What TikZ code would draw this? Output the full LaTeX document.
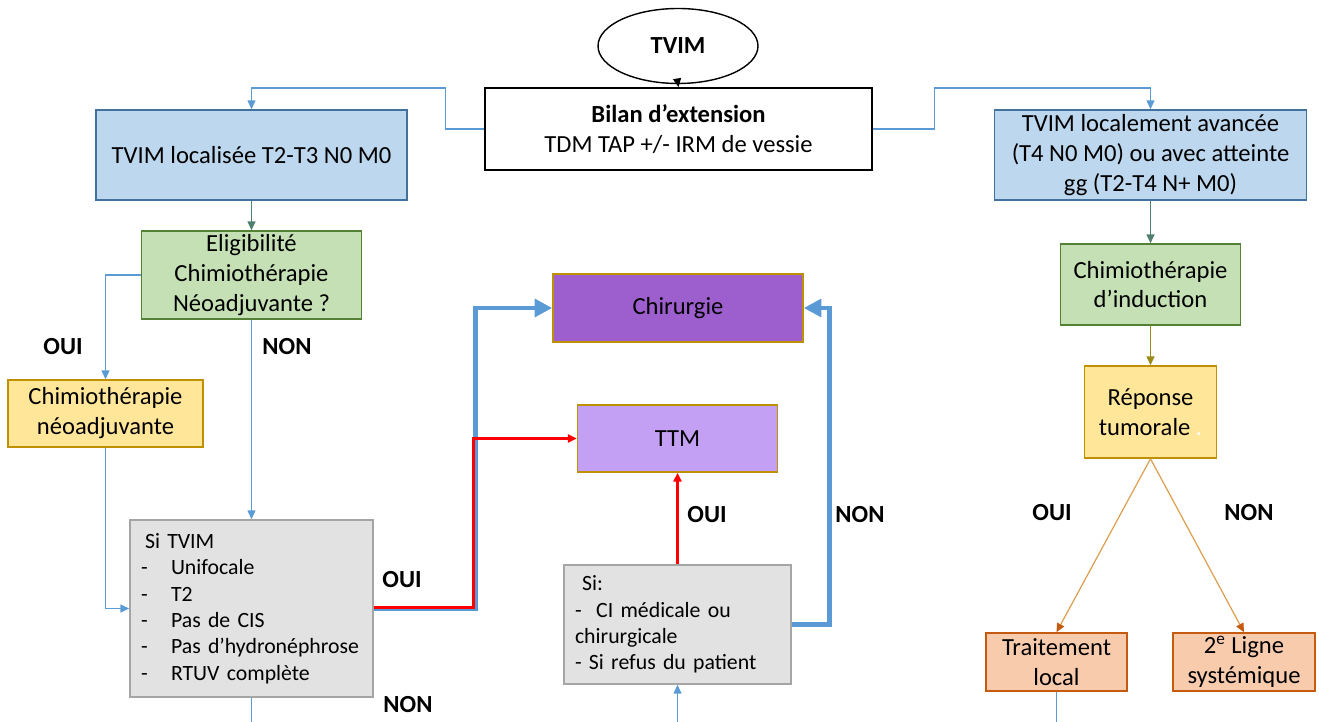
\documentclass[tikz,border=0pt]{standalone}
\usepackage{fontspec}
\setmainfont{Carlito}
\usetikzlibrary{arrows.meta,shapes.geometric}
\definecolor{bleu}{HTML}{BDD7EE}
\definecolor{bleutrait}{HTML}{41719C}
\definecolor{vert}{HTML}{C5E0B4}
\definecolor{verttrait}{HTML}{548235}
\definecolor{jaune}{HTML}{FFE699}
\definecolor{jaunetrait}{HTML}{BF9000}
\definecolor{gris}{HTML}{E2E2E2}
\definecolor{gristrait}{HTML}{A5A5A5}
\definecolor{violet}{HTML}{9E5FCE}
\definecolor{lilas}{HTML}{C4A0F4}
\definecolor{saumon}{HTML}{F8CBAD}
\definecolor{orangetrait}{HTML}{C55A11}
\definecolor{lien}{HTML}{5B9BD5}
\definecolor{sarcelle}{HTML}{4F7F6F}
\definecolor{olive}{HTML}{9A8A18}
\definecolor{ocre}{HTML}{DDA050}
\newcommand{\tiret}{\makebox[0.6cm][l]{-}}
\newcommand{\petit}{\fontsize{12.4}{15}\selectfont}

\begin{document}
\begin{tikzpicture}[x=0.02cm,y=-0.02cm,
  >={Triangle[length=5pt,width=4.5pt]},
  every node/.style={font=\fontsize{14}{17}\selectfont},
  boite/.style={draw,inner sep=0pt,align=center,line width=0.9pt},
  bleue/.style={boite,fill=bleu,draw=bleutrait},
  verte/.style={boite,fill=vert,draw=verttrait},
  jaun/.style={boite,fill=jaune,draw=jaunetrait},
  grise/.style={boite,fill=gris,draw=gristrait,align=left,inner xsep=0.22cm,font=\petit},
  saum/.style={boite,fill=saumon,draw=orangetrait},
  choix/.style={font=\fontsize{14}{17}\selectfont\bfseries},
  fin/.style={lien,line width=0.7pt},
  epais/.style={lien,line width=2.8pt,-{Triangle[length=10pt,width=10pt]}},
  rouge/.style={red,line width=1.6pt,-{Triangle[length=5pt,width=4.5pt]}}]
\useasboundingbox (0,0) rectangle (1319,722);

% haut
\node[ellipse,draw,line width=0.8pt,inner sep=0pt,minimum width=3.2cm,minimum height=1.5cm] (tvim) at (678,46) {\textbf{TVIM}};
\node[boite,fill=white,minimum width=7.74cm,minimum height=1.64cm] (bilan) at (678.5,129) {\textbf{Bilan d’extension}\\TDM TAP +/- IRM de vessie};
\node[bleue,minimum width=6.22cm,minimum height=1.8cm] (loc) at (251.5,155) {TVIM localisée T2-T3 N0 M0};
\node[bleue,minimum width=6.24cm,minimum height=1.8cm] (avance) at (1150.5,155) {TVIM localement avancée\\(T4 N0 M0) ou avec atteinte\\gg (T2-T4 N+ M0)};

% colonne gauche
\node[verte,minimum width=4.4cm,minimum height=1.76cm] (elig) at (251.5,275) {Eligibilité\\Chimiothérapie\\Néoadjuvante ?};
\node[jaun,minimum width=3.9cm,minimum height=1.34cm] (neo) at (105.5,413.5) {Chimiothérapie\\néoadjuvante};
\node[grise,text width=4.42cm,minimum height=3.54cm] (crit) at (251.5,608.5) {\hspace*{0.08cm}Si TVIM\\\tiret Unifocale\\\tiret T2\\\tiret Pas de CIS\\\tiret Pas d’hydronéphrose\\\tiret RTUV complète};

% centre
\node[boite,fill=violet,draw=jaunetrait,minimum width=5cm,minimum height=1.36cm] (chir) at (678,308) {Chirurgie};
\node[boite,fill=lilas,draw=jaunetrait,minimum width=4cm,minimum height=1.34cm] (ttm) at (677.5,438.5) {TTM};
\node[grise,text width=4.1cm,minimum height=2.38cm] (ci) at (677.5,624.5) {\hspace*{0.14cm}Si:\\-\ \ CI médicale ou\\chirurgicale\\- Si refus du patient};

% colonne droite
\node[verte,minimum width=3.6cm,minimum height=1.62cm] (induc) at (1150.5,284.5) {Chimiothérapie\\d’induction};
\node[jaun,minimum width=2.64cm,minimum height=1.84cm] (rep) at (1150.5,412) {Réponse\\tumorale \textcolor{white}{.}};
\node[saum,minimum width=2.82cm,minimum height=1.16cm] (local) at (1056.5,662) {Traitement\\local};
\node[saum,minimum width=2.84cm,minimum height=1.16cm] (ligne) at (1244,662) {2\textsuperscript{e} Ligne\\systémique};

% etiquettes
\node[choix] (oui1) at (63,347) {OUI};
\node[choix] (non1) at (287,347) {NON};
\node[choix] (oui2) at (402,580) {OUI};
\node[choix] (non2) at (408,705) {NON};
\node[choix] (oui3) at (707,515) {OUI};
\node[choix] (non3) at (860,515) {NON};
\node[choix] (oui4) at (1052,513) {OUI};
\node[choix] (non4) at (1249,513) {NON};

\coordinate (bas1) at (251.5,722);
\coordinate (bas2) at (677.5,722);
\coordinate (bas3) at (1056.5,722);

% liens
\draw[->,line width=0.8pt] (tvim.south) -- (bilan.north);
\draw[fin,->] (bilan.west) -| ++(-39,-41) -| (loc.north);
\draw[fin,->] (bilan.east) -| ++(62,-41) -| (avance.north);
\draw[->,sarcelle,line width=0.8pt] (loc.south) -- (elig.north);
\draw[fin,->] (elig.west) -| (neo.north);
\draw[fin,->] (neo.south) |- (crit.west);
\draw[fin,->] (elig.south) -- (crit.north);
\draw[fin] (crit.south) -- (bas1);
\draw[epais] (crit.east) -- ++(102,0) |- (chir.west);
\draw[rouge] ([yshift=0.6pt]crit.east) -- ++(100,0) |- (ttm.west);
\draw[rouge] (ci.north) -- (ttm.south);
\draw[epais] (ci.east) -- ++(38,0) |- (chir.east);
\draw[fin,->] (bas2) -- (ci.south);
\draw[->,sarcelle,line width=0.8pt] (avance.south) -- (induc.north);
\draw[->,olive,line width=0.8pt] (induc.south) -- (rep.north);
\draw[ocre,line width=0.7pt,-{Triangle[length=5pt,width=4.5pt,color=orangetrait]}] (rep.south) -- (local.north);
\draw[ocre,line width=0.7pt,-{Triangle[length=5pt,width=4.5pt,color=orangetrait]}] (rep.south) -- (ligne.north);
\draw[fin] (local.south) -- (bas3);
\end{tikzpicture}
\end{document}
